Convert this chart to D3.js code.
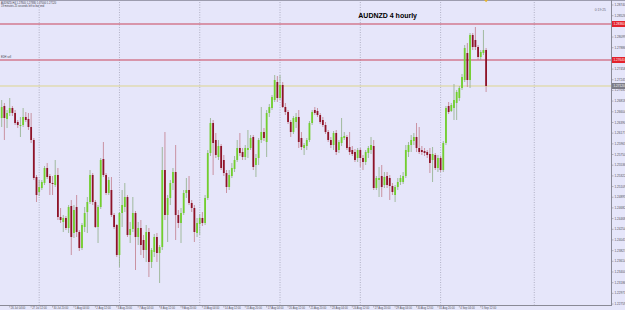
<!DOCTYPE html>
<html>
<head>
<meta charset="utf-8">
<script src="https://cdn.jsdelivr.net/npm/d3@7"></script>
<style>
    body { margin: 0; background: #e6e6fa; }
    svg { display: block; font-family: Arial, "Liberation Sans", sans-serif; }
</style>
</head>
<body>
<svg id="chart" width="625" height="310"></svg>
<script>
// AUDNZD H4 candles, 25 Jul - 5 Sep 2012
const opens = [
    1.2648, 1.2672, 1.2646, 1.2658, 1.2668, 1.2658, 1.2640, 1.2632, 1.2634, 1.2650,
    1.2646, 1.2630, 1.2604, 1.2530, 1.2500, 1.2508, 1.2518, 1.2548, 1.2532, 1.2518,
    1.2514, 1.2534, 1.2450, 1.2440, 1.2448, 1.2428, 1.2472, 1.2418, 1.2470, 1.2420,
    1.2388, 1.2430, 1.2460, 1.2480, 1.2534, 1.2480, 1.2430, 1.2470, 1.2566, 1.2534,
    1.2498, 1.2504, 1.2454, 1.2434, 1.2374, 1.2458, 1.2470, 1.2490, 1.2414, 1.2426,
    1.2458, 1.2410, 1.2428, 1.2404, 1.2384, 1.2420, 1.2360, 1.2380, 1.2410, 1.2378,
    1.2390, 1.2544, 1.2454, 1.2488, 1.2518, 1.2540, 1.2454, 1.2438, 1.2458, 1.2498,
    1.2504, 1.2478, 1.2468, 1.2418, 1.2436, 1.2448, 1.2438, 1.2488, 1.2578, 1.2638,
    1.2604, 1.2570, 1.2592, 1.2564, 1.2538, 1.2510, 1.2532, 1.2546, 1.2564, 1.2588,
    1.2580, 1.2570, 1.2584, 1.2588, 1.2610, 1.2554, 1.2568, 1.2604, 1.2620, 1.2600,
    1.2658, 1.2668, 1.2684, 1.2720, 1.2688, 1.2714, 1.2670, 1.2660, 1.2640, 1.2620,
    1.2640, 1.2650, 1.2608, 1.2588, 1.2592, 1.2604, 1.2638, 1.2664, 1.2662, 1.2654,
    1.2644, 1.2634, 1.2620, 1.2604, 1.2594, 1.2618, 1.2584, 1.2598, 1.2608, 1.2610,
    1.2590, 1.2584, 1.2580, 1.2568, 1.2584, 1.2568, 1.2560, 1.2578, 1.2584, 1.2592,
    1.2508, 1.2524, 1.2532, 1.2514, 1.2532, 1.2528, 1.2512, 1.2494, 1.2510, 1.2520,
    1.2520, 1.2532, 1.2580, 1.2594, 1.2602, 1.2610, 1.2588, 1.2584, 1.2582, 1.2580,
    1.2576, 1.2564, 1.2574, 1.2548, 1.2568, 1.2544, 1.2598, 1.2672, 1.2662, 1.2668,
    1.2678, 1.2688, 1.2708, 1.2724, 1.2778, 1.2724, 1.2814, 1.2804, 1.2790, 1.2770,
    1.2778, 1.2784
];
const highs = [
    1.2684, 1.2678, 1.2664, 1.2688, 1.2672, 1.2664, 1.2644, 1.2650, 1.2668, 1.2660,
    1.2658, 1.2658, 1.2608, 1.2534, 1.2524, 1.2524, 1.2552, 1.2558, 1.2536, 1.2532,
    1.2564, 1.2548, 1.2468, 1.2454, 1.2452, 1.2474, 1.2484, 1.2474, 1.2494, 1.2424,
    1.2438, 1.2470, 1.2490, 1.2544, 1.2538, 1.2484, 1.2474, 1.2568, 1.2600, 1.2538,
    1.2530, 1.2530, 1.2458, 1.2436, 1.2460, 1.2504, 1.2518, 1.2494, 1.2440, 1.2490,
    1.2462, 1.2440, 1.2444, 1.2414, 1.2434, 1.2428, 1.2388, 1.2416, 1.2418, 1.2394,
    1.2590, 1.2620, 1.2494, 1.2524, 1.2548, 1.2594, 1.2464, 1.2468, 1.2504, 1.2528,
    1.2532, 1.2484, 1.2474, 1.2448, 1.2456, 1.2460, 1.2494, 1.2584, 1.2648, 1.2644,
    1.2618, 1.2604, 1.2596, 1.2574, 1.2544, 1.2544, 1.2558, 1.2572, 1.2604, 1.2618,
    1.2588, 1.2594, 1.2624, 1.2614, 1.2614, 1.2576, 1.2608, 1.2670, 1.2628, 1.2664,
    1.2676, 1.2694, 1.2734, 1.2732, 1.2734, 1.2720, 1.2678, 1.2664, 1.2644, 1.2652,
    1.2658, 1.2664, 1.2620, 1.2598, 1.2608, 1.2642, 1.2664, 1.2670, 1.2668, 1.2658,
    1.2650, 1.2640, 1.2624, 1.2610, 1.2622, 1.2624, 1.2604, 1.2648, 1.2620, 1.2614,
    1.2620, 1.2592, 1.2586, 1.2588, 1.2588, 1.2574, 1.2584, 1.2592, 1.2610, 1.2604,
    1.2532, 1.2550, 1.2554, 1.2540, 1.2540, 1.2534, 1.2518, 1.2514, 1.2528, 1.2534,
    1.2540, 1.2594, 1.2600, 1.2614, 1.2618, 1.2638, 1.2630, 1.2592, 1.2588, 1.2584,
    1.2588, 1.2590, 1.2578, 1.2574, 1.2572, 1.2602, 1.2672, 1.2680, 1.2678, 1.2716,
    1.2704, 1.2712, 1.2736, 1.2794, 1.2798, 1.2818, 1.2818, 1.2830, 1.2794, 1.2784,
    1.2824, 1.2788
];
const lows = [
    1.2630, 1.2604, 1.2628, 1.2652, 1.2652, 1.2634, 1.2628, 1.2610, 1.2630, 1.2640,
    1.2624, 1.2598, 1.2524, 1.2480, 1.2492, 1.2504, 1.2514, 1.2526, 1.2494, 1.2494,
    1.2510, 1.2444, 1.2438, 1.2420, 1.2424, 1.2418, 1.2374, 1.2408, 1.2410, 1.2382,
    1.2384, 1.2420, 1.2418, 1.2476, 1.2474, 1.2428, 1.2398, 1.2466, 1.2530, 1.2494,
    1.2494, 1.2450, 1.2426, 1.2370, 1.2350, 1.2430, 1.2460, 1.2410, 1.2398, 1.2420,
    1.2344, 1.2394, 1.2374, 1.2368, 1.2360, 1.2330, 1.2348, 1.2370, 1.2360, 1.2318,
    1.2384, 1.2444, 1.2400, 1.2474, 1.2504, 1.2404, 1.2428, 1.2398, 1.2454, 1.2488,
    1.2474, 1.2460, 1.2400, 1.2410, 1.2414, 1.2432, 1.2434, 1.2484, 1.2572, 1.2534,
    1.2568, 1.2564, 1.2544, 1.2532, 1.2498, 1.2504, 1.2528, 1.2540, 1.2560, 1.2572,
    1.2564, 1.2564, 1.2568, 1.2584, 1.2544, 1.2530, 1.2554, 1.2598, 1.2602, 1.2570,
    1.2650, 1.2664, 1.2680, 1.2680, 1.2684, 1.2668, 1.2654, 1.2636, 1.2610, 1.2616,
    1.2628, 1.2588, 1.2584, 1.2574, 1.2584, 1.2600, 1.2634, 1.2654, 1.2650, 1.2636,
    1.2630, 1.2616, 1.2600, 1.2588, 1.2584, 1.2574, 1.2578, 1.2592, 1.2604, 1.2584,
    1.2574, 1.2572, 1.2560, 1.2560, 1.2550, 1.2544, 1.2554, 1.2568, 1.2576, 1.2504,
    1.2504, 1.2490, 1.2490, 1.2508, 1.2508, 1.2484, 1.2494, 1.2480, 1.2504, 1.2514,
    1.2516, 1.2528, 1.2570, 1.2580, 1.2594, 1.2580, 1.2576, 1.2574, 1.2572, 1.2568,
    1.2538, 1.2520, 1.2544, 1.2540, 1.2540, 1.2540, 1.2594, 1.2656, 1.2660, 1.2644,
    1.2644, 1.2682, 1.2704, 1.2720, 1.2710, 1.2708, 1.2784, 1.2784, 1.2764, 1.2764,
    1.2774, 1.2700
];
const closes = [
    1.2670, 1.2648, 1.2658, 1.2668, 1.2658, 1.2638, 1.2634, 1.2634, 1.2650, 1.2644,
    1.2630, 1.2604, 1.2528, 1.2494, 1.2510, 1.2520, 1.2548, 1.2530, 1.2518, 1.2516,
    1.2534, 1.2450, 1.2444, 1.2448, 1.2428, 1.2470, 1.2410, 1.2464, 1.2420, 1.2388,
    1.2434, 1.2458, 1.2480, 1.2534, 1.2480, 1.2430, 1.2470, 1.2564, 1.2534, 1.2498,
    1.2524, 1.2454, 1.2430, 1.2374, 1.2458, 1.2474, 1.2490, 1.2414, 1.2426, 1.2458,
    1.2410, 1.2428, 1.2394, 1.2384, 1.2420, 1.2360, 1.2384, 1.2410, 1.2378, 1.2390,
    1.2544, 1.2454, 1.2488, 1.2518, 1.2540, 1.2454, 1.2438, 1.2458, 1.2498, 1.2504,
    1.2478, 1.2468, 1.2420, 1.2438, 1.2448, 1.2438, 1.2488, 1.2578, 1.2638, 1.2598,
    1.2574, 1.2592, 1.2548, 1.2538, 1.2510, 1.2534, 1.2548, 1.2564, 1.2588, 1.2578,
    1.2570, 1.2588, 1.2588, 1.2608, 1.2550, 1.2568, 1.2604, 1.2620, 1.2608, 1.2658,
    1.2670, 1.2690, 1.2724, 1.2688, 1.2714, 1.2670, 1.2660, 1.2640, 1.2620, 1.2648,
    1.2650, 1.2600, 1.2590, 1.2594, 1.2604, 1.2638, 1.2660, 1.2658, 1.2654, 1.2640,
    1.2634, 1.2620, 1.2604, 1.2594, 1.2618, 1.2580, 1.2600, 1.2610, 1.2612, 1.2588,
    1.2580, 1.2576, 1.2564, 1.2584, 1.2568, 1.2560, 1.2580, 1.2588, 1.2594, 1.2508,
    1.2528, 1.2528, 1.2510, 1.2530, 1.2514, 1.2512, 1.2500, 1.2510, 1.2520, 1.2528,
    1.2532, 1.2584, 1.2594, 1.2604, 1.2610, 1.2588, 1.2580, 1.2580, 1.2578, 1.2574,
    1.2558, 1.2576, 1.2548, 1.2568, 1.2544, 1.2598, 1.2668, 1.2660, 1.2674, 1.2684,
    1.2700, 1.2708, 1.2730, 1.2788, 1.2724, 1.2814, 1.2790, 1.2790, 1.2770, 1.2780,
    1.2784, 1.2712
];

// right price scale
const priceTicks = [
    "1.28740", "1.28526", "1.28313", "1.28099", "1.27886", "1.27672", "1.27458", "1.27245",
    "1.27031", "1.26818", "1.26604", "1.26390", "1.26177", "1.25963", "1.25750", "1.25536",
    "1.25322", "1.25109", "1.24895", "1.24682", "1.24468", "1.24254", "1.24041", "1.23827",
    "1.23614", "1.23400", "1.23186", "1.22973", "1.22759"
];

// time scale (bar index -> label)
const dateBars = [3, 11, 19, 27, 35, 43, 51, 59, 67, 75, 83, 91, 99, 107, 115, 123, 131, 139, 147, 155, 163, 171, 179];
const dateLabels = [
    "26 Jul 04:00", "27 Jul 12:00", "30 Jul 20:00", "1 Aug 04:00", "2 Aug 12:00",
    "3 Aug 20:00", "7 Aug 04:00", "8 Aug 12:00", "9 Aug 20:00", "13 Aug 04:00", "14 Aug 12:00",
    "15 Aug 20:00", "17 Aug 04:00", "20 Aug 12:00", "21 Aug 20:00", "23 Aug 04:00", "24 Aug 12:00",
    "27 Aug 20:00", "29 Aug 04:00", "30 Aug 12:00", "31 Aug 20:00", "4 Sep 04:00", "5 Sep 12:00"
];
const gridBars = [14, 44, 74, 104, 134, 164, 199];

// horizontal levels
const levels = [1.2836, 1.2764];
const levelLabels = ["1.28360", "1.27640"];
const bidPrice = 1.2712;
const bidLabel = "1.27120";

const svg = d3.select('#chart');
const W = 625, H = 310;
const plotRight = 611, plotBottom = 305;

const candles = opens.map((o, i) => ({ i: i, o: o, h: highs[i], l: lows[i], c: closes[i] }));

const x = d3.scaleLinear().domain([0, 181]).range([1.7, 486.1]);
const y = d3.scaleLinear().domain([1.2276, 1.2874]).range([304, 5]);

svg.append('rect').attr('width', W).attr('height', H).attr('fill', '#e6e6fa');

// top border
svg.append('line').attr('x1', 0).attr('x2', W).attr('y1', 0.5).attr('y2', 0.5)
    .attr('stroke', '#9c9cae').attr('stroke-width', 1);

// vertical grid
svg.append('g').selectAll('line')
    .data(gridBars)
    .enter()
    .append('line')
    .attr('x1', d => x(d)).attr('x2', d => x(d))
    .attr('y1', 2).attr('y2', plotBottom)
    .attr('stroke', '#a4a4b8')
    .attr('stroke-width', 0.8)
    .attr('stroke-dasharray', '1,1.5');

// levels
svg.append('g').selectAll('line')
    .data(levels)
    .enter()
    .append('line')
    .attr('x1', 0).attr('x2', plotRight)
    .attr('y1', d => y(d)).attr('y2', d => y(d))
    .attr('stroke', '#c9455a')
    .attr('stroke-width', 1);

svg.append('line')
    .attr('x1', 0).attr('x2', plotRight)
    .attr('y1', y(bidPrice)).attr('y2', y(bidPrice))
    .attr('stroke', '#ddd58e')
    .attr('stroke-width', 1);

// Candles
const cg = svg.append('g');
cg.selectAll('line.wick')
    .data(candles)
    .enter()
    .append('line')
    .classed('wick', true)
    .attr('x1', d => x(d.i)).attr('x2', d => x(d.i))
    .attr('y1', d => y(d.h)).attr('y2', d => y(d.l))
    .attr('stroke', d => d.c >= d.o ? '#8fae86' : '#c27c8c')
    .attr('stroke-width', 0.8);

cg.selectAll('rect.body')
    .data(candles)
    .enter()
    .append('rect')
    .classed('body', true)
    .attr('x', d => x(d.i) - 0.9)
    .attr('width', 1.8)
    .attr('y', d => y(Math.max(d.o, d.c)))
    .attr('height', d => Math.max(0.8, Math.abs(y(d.o) - y(d.c))))
    .attr('fill', d => d.c >= d.o ? '#72cf2e' : '#8e1328');

// axes frame
svg.append('line').attr('x1', plotRight + 0.5).attr('x2', plotRight + 0.5)
    .attr('y1', 0).attr('y2', plotBottom + 1).attr('stroke', '#8a8a96');
svg.append('line').attr('x1', 0).attr('x2', plotRight + 1)
    .attr('y1', plotBottom + 0.5).attr('y2', plotBottom + 0.5).attr('stroke', '#8a8a96');

// price labels
const boxYs = levels.map(d => y(d));
const pg = svg.append('g');
priceTicks.forEach(t => {
    const ty = y(+t);
    pg.append('line').attr('x1', plotRight).attr('x2', plotRight + 2.5)
        .attr('y1', ty).attr('y2', ty).attr('stroke', '#8a8a96').attr('stroke-width', 0.6);
    if (boxYs.some(b => Math.abs(b - ty) < 5)) return;
    pg.append('text')
        .attr('x', plotRight + 3.5).attr('y', ty + 1)
        .attr('font-size', 3.1).attr('fill', '#505058')
        .text(t);
});

levels.forEach((d, k) => {
    pg.append('rect').attr('x', plotRight + 1).attr('y', y(d) - 3)
        .attr('width', 13).attr('height', 6).attr('fill', '#e3212c');
    pg.append('text').attr('x', plotRight + 2.5).attr('y', y(d) + 1.1)
        .attr('font-size', 3.1).attr('fill', '#fff').text(levelLabels[k]);
});
pg.append('rect').attr('x', plotRight + 1).attr('y', y(bidPrice) - 3)
    .attr('width', 13).attr('height', 6).attr('fill', '#7d7d88');
pg.append('text').attr('x', plotRight + 2.5).attr('y', y(bidPrice) + 1.1)
    .attr('font-size', 3.1).attr('fill', '#fff').text(bidLabel);

// time labels
const tg = svg.append('g');
dateBars.forEach((b, k) => {
    tg.append('line').attr('x1', x(b)).attr('x2', x(b))
        .attr('y1', plotBottom).attr('y2', plotBottom + 2.5)
        .attr('stroke', '#8a8a96').attr('stroke-width', 0.6);
    tg.append('text').attr('x', x(b) + 1).attr('y', 309.3)
        .attr('font-size', 2.7).attr('fill', '#505058')
        .text(dateLabels[k]);
});

// texts
svg.append('text').attr('x', 417).attr('y', 18).attr('text-anchor', 'end')
    .attr('font-size', 7).attr('font-weight', 'bold').attr('fill', '#000')
    .text('AUDNZD 4 hourly');
svg.append('text').attr('x', 606).attr('y', 11).attr('text-anchor', 'end')
    .attr('font-size', 3.4).attr('fill', '#6a6a78').text('0:19:25');
svg.append('text').attr('x', 1).attr('y', 3.6).attr('font-size', 2.6).attr('fill', '#404048')
    .text('AUDNZD,H4  1.27840 1.27880 1.27000 1.27120');
svg.append('text').attr('x', 1).attr('y', 6.9).attr('font-size', 2.6).attr('fill', '#404048')
    .text('19 minutes 25 seconds left to bar end');
svg.append('text').attr('x', 1).attr('y', 58.3).attr('font-size', 2.6).attr('fill', '#404048')
    .text('EDH sell');

// current bar marker on top edge
svg.append('path')
    .attr('d', `M${x(181) - 2},0 L${x(181) + 2},0 L${x(181)},2.2 Z`)
    .attr('fill', '#e6b52e');
</script>
</body>
</html>
